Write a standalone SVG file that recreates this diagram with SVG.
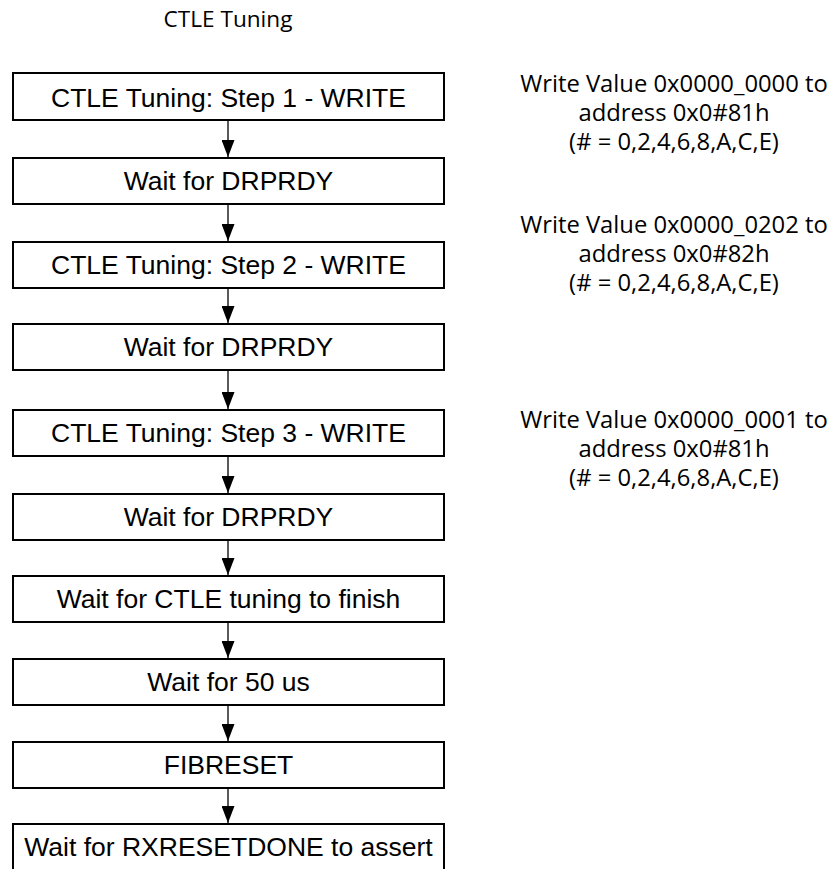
<svg xmlns="http://www.w3.org/2000/svg" width="830" height="869" viewBox="0 0 830 869">
<defs>
<style>
.box rect{fill:#fff;stroke:#000;stroke-width:2}
.box text{font-family:"Liberation Sans",Arial,sans-serif;font-size:26.5px;text-anchor:middle;fill:#000}
.note{font-family:"Open Sans","Noto Sans",sans-serif;font-size:23.8px;text-anchor:middle;fill:#000}
.conn line{stroke:#000;stroke-width:1.3;fill:none}
</style>
<marker id="ah" markerUnits="userSpaceOnUse" markerWidth="18" markerHeight="13" refX="17" refY="6.5" orient="auto">
<path d="M0,0 L17,6.5 L0,13 Z" fill="#000"/>
</marker>
</defs>
<rect width="830" height="869" fill="#fff"/>
<text class="note" x="228" y="27" style="font-size:22.6px">CTLE Tuning</text>

<g id="n1" class="box"><rect x="13" y="73" width="431" height="47"/><text x="228.5" y="106.5">CTLE Tuning: Step 1 - WRITE</text></g>
<g id="n2" class="box"><rect x="13" y="158" width="431" height="46"/><text x="228.5" y="190">Wait for DRPRDY</text></g>
<g id="n3" class="box"><rect x="13" y="242" width="431" height="46"/><text x="228.5" y="274">CTLE Tuning: Step 2 - WRITE</text></g>
<g id="n4" class="box"><rect x="13" y="324" width="431" height="46"/><text x="228.5" y="356">Wait for DRPRDY</text></g>
<g id="n5" class="box"><rect x="13" y="410" width="431" height="46"/><text x="228.5" y="442">CTLE Tuning: Step 3 - WRITE</text></g>
<g id="n6" class="box"><rect x="13" y="494" width="431" height="46"/><text x="228.5" y="526">Wait for DRPRDY</text></g>
<g id="n7" class="box"><rect x="13" y="576" width="431" height="46"/><text x="228.5" y="608">Wait for CTLE tuning to finish</text></g>
<g id="n8" class="box"><rect x="13" y="659" width="431" height="46"/><text x="228.5" y="691">Wait for 50 us</text></g>
<g id="n9" class="box"><rect x="13" y="742" width="431" height="46"/><text x="228.5" y="774">FIBRESET</text></g>
<g id="n10" class="box"><rect x="13" y="824" width="431" height="46"/><text x="228.5" y="856">Wait for RXRESETDONE to assert</text></g>

<g id="connectors" class="conn">
<line x1="228" y1="121" x2="228" y2="157" marker-end="url(#ah)"/>
<line x1="228" y1="205" x2="228" y2="241" marker-end="url(#ah)"/>
<line x1="228" y1="289" x2="228" y2="323" marker-end="url(#ah)"/>
<line x1="228" y1="371" x2="228" y2="409" marker-end="url(#ah)"/>
<line x1="228" y1="457" x2="228" y2="493" marker-end="url(#ah)"/>
<line x1="228" y1="541" x2="228" y2="575" marker-end="url(#ah)"/>
<line x1="228" y1="623" x2="228" y2="658" marker-end="url(#ah)"/>
<line x1="228" y1="706" x2="228" y2="741" marker-end="url(#ah)"/>
<line x1="228" y1="789" x2="228" y2="823" marker-end="url(#ah)"/>
</g>

<g id="note1">
<text class="note" x="674" y="92">Write Value 0x0000_0000 to</text>
<text class="note" x="674" y="121">address 0x0#81h</text>
<text class="note" x="674" y="150">(# = 0,2,4,6,8,A,C,E)</text>
</g>
<g id="note2">
<text class="note" x="674" y="233">Write Value 0x0000_0202 to</text>
<text class="note" x="674" y="262">address 0x0#82h</text>
<text class="note" x="674" y="291">(# = 0,2,4,6,8,A,C,E)</text>
</g>
<g id="note3">
<text class="note" x="674" y="428">Write Value 0x0000_0001 to</text>
<text class="note" x="674" y="457">address 0x0#81h</text>
<text class="note" x="674" y="486">(# = 0,2,4,6,8,A,C,E)</text>
</g>
</svg>
